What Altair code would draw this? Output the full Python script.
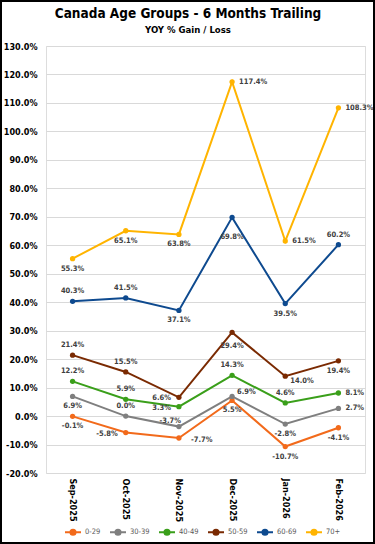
import altair as alt
import pandas as pd

months = ["Sep-2025", "Oct-2025", "Nov-2025", "Dec-2025", "Jan-2026", "Feb-2026"]
groups = ["0-29", "30-39", "40-49", "50-59", "60-69", "70+"]
colors = ["#F26A1B", "#7F7F7F", "#3A9F1A", "#7A2A02", "#0E4A8F", "#FFB400"]

g0_29 = [-0.1, -5.8, -7.7, 5.5, -10.7, -4.1]
g30_39 = [6.9, 0.0, -3.7, 6.9, -2.8, 2.7]
g40_49 = [12.2, 5.9, 3.3, 14.3, 4.6, 8.1]
g50_59 = [21.4, 15.5, 6.6, 29.4, 14.0, 19.4]
g60_69 = [40.3, 41.5, 37.1, 69.8, 39.5, 60.2]
g70 = [55.3, 65.1, 63.8, 117.4, 61.5, 108.3]

title_text = "Canada Age Groups - 6 Months Trailing"
subtitle_text = "YOY % Gain / Loss"

# label placement per point (style)
pos_0_29 = ["below", "left", "farright", "below", "below", "below"]
pos_30_39 = ["below", "above", "upleft", "upright", "below", "right"]
pos_40_49 = ["above", "above", "left", "above", "above", "right"]
pos_50_59 = ["above", "above", "left", "farbelow", "belowright", "below"]
pos_60_69 = ["above", "above", "below", "farbelow2", "below", "above"]
pos_70 = ["below", "below", "below", "right", "right", "right"]

series = [g0_29, g30_39, g40_49, g50_59, g60_69, g70]
positions = [pos_0_29, pos_30_39, pos_40_49, pos_50_59, pos_60_69, pos_70]

rows = []
for g, vals, pos in zip(groups, series, positions):
    for m, v, p in zip(months, vals, pos):
        rows.append({"month": m, "group": g, "value": v, "pos": p})
df = pd.DataFrame(rows)

placement = {
    "above": (0, -10, "center"),
    "below": (0, 10, "center"),
    "farbelow": (0, 14, "center"),
    "farbelow2": (0, 20, "center"),
    "left": (-8, 1, "right"),
    "right": (7, 0, "left"),
    "farright": (12, 2, "left"),
    "upleft": (2, -6, "right"),
    "upright": (5, -4, "left"),
    "belowright": (5, 5, "left"),
}

FONT = "'DejaVu Sans Condensed', Roboto, sans-serif"
FMT = "replace(format(datum.value, '.1f'), '\u2212', '-') + '%'"

x = alt.X("month:N", sort=months, scale=alt.Scale(type="point", padding=0.5),
          axis=alt.Axis(title=None, labelAngle=90, labelFontWeight="bold", labelFontSize=9,
                        labelColor="#000000", domain=False, ticks=False, labelPadding=5,
                        labelFont=FONT, grid=False))
y = alt.Y("value:Q", scale=alt.Scale(domain=[-20, 130], nice=False),
          axis=alt.Axis(title=None, values=list(range(-20, 131, 10)),
                        labelExpr=FMT,
                        labelFontWeight="bold", labelFontSize=9, labelColor="#000000",
                        labelFont=FONT, domain=False, ticks=False, labelPadding=9,
                        gridColor="#D9D9D9", gridWidth=1.2))
color = alt.Color("group:N", sort=groups, scale=alt.Scale(domain=groups, range=colors),
                  legend=alt.Legend(title=None, orient="none", legendX=18, legendY=477,
                                    direction="horizontal", columns=6,
                                    symbolType="M-1,0H1M-0.32,0a0.32,0.32 0 1,0 0.64,0a0.32,0.32 0 1,0 -0.64,0",
                                    symbolSize=256, symbolStrokeWidth=2,
                                    labelFontSize=7.5, labelColor="#595959", labelFont=FONT,
                                    labelOffset=3, columnPadding=5))

base = alt.Chart(df)
lines = base.mark_line(strokeWidth=2).encode(x=x, y=y, color=color)
points = base.mark_point(filled=True, size=28, opacity=1).encode(x=x, y=y, color=color)

label_layers = []
for name, (dx, dy, align) in placement.items():
    label_layers.append(
        base.transform_filter(alt.datum.pos == name)
        .transform_calculate(lbl=FMT)
        .mark_text(dx=dx, dy=dy, align=align, baseline="middle", fontSize=7.5,
                   fontWeight="bold", color="#404040", font=FONT)
        .encode(x=x, y=y, text="lbl:N")
    )

one = pd.DataFrame({"a": [0]})
border = alt.Chart(one).mark_rect(
    filled=False, stroke="#000000", strokeWidth=2
).encode(x=alt.value(-45), x2=alt.value(328), y=alt.value(-45), y2=alt.value(497))

title = alt.Chart(one).mark_text(
    fontSize=13.5, fontWeight="bold", font=FONT, color="#000000", align="center", baseline="middle"
).encode(x=alt.value(142), y=alt.value(-32), text=alt.value(title_text))
subtitle = alt.Chart(one).mark_text(
    fontSize=9.5, fontWeight="bold", font=FONT, color="#000000", align="center", baseline="middle"
).encode(x=alt.value(142), y=alt.value(-16), text=alt.value(subtitle_text))

chart = alt.layer(lines, points, *label_layers, border, title, subtitle).properties(
    width=319, height=427,
    autosize=alt.AutoSizeParams(type="none"),
    padding={"left": 46, "top": 46, "right": 10, "bottom": 71},
).configure_view(stroke=None).configure(background="#FFFFFF")

chart.save("out.html", embed_options={"renderer": "svg", "actions": False})
